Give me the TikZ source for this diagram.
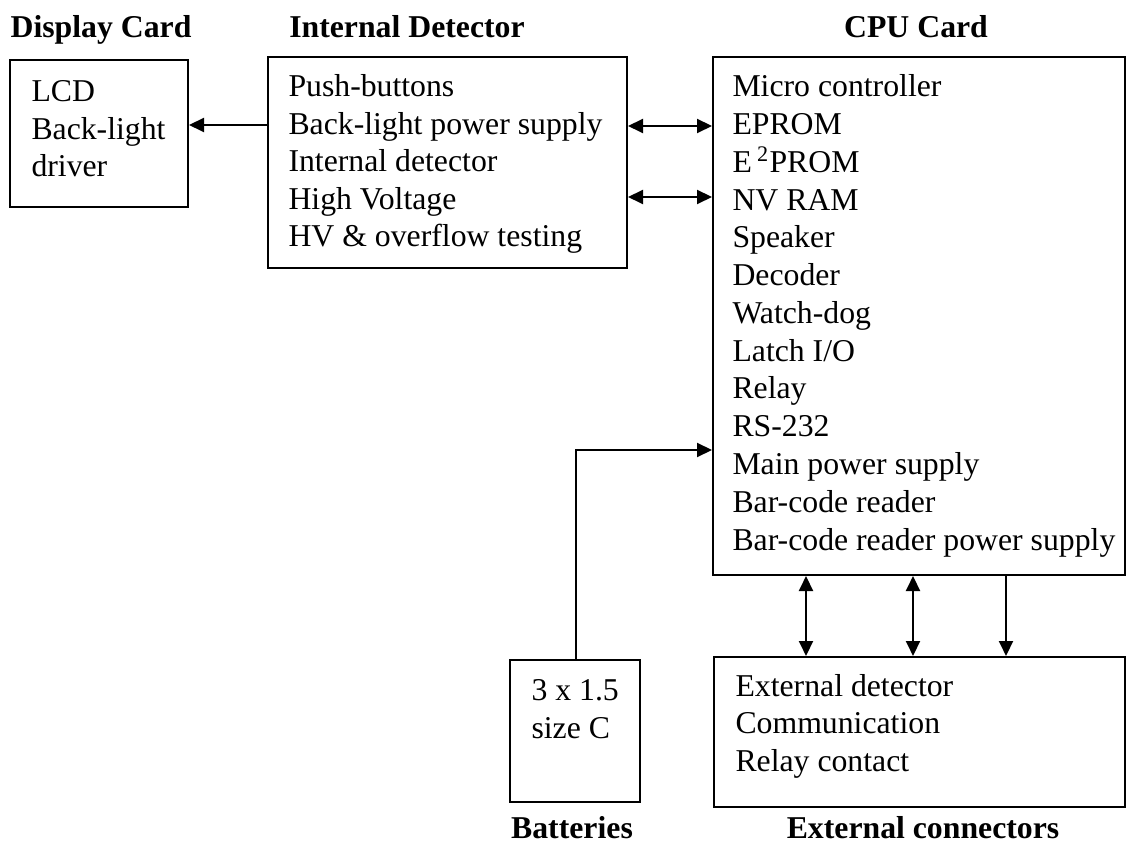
\documentclass[tikz,border=0pt]{standalone}
\usepackage{fontspec}
\setmainfont{Liberation Serif}
\usetikzlibrary{arrows.meta,fit}
\tikzset{
  box/.style={draw, line width=0.8pt, inner sep=0pt, fit={#1}},
  txt/.style={anchor=base west, inner sep=0pt, align=left, font=\fontsize{12.7}{15}\selectfont},
  cputxt/.style={txt, font=\fontsize{12.7}{15.1}\selectfont},
  head/.style={anchor=base, inner sep=0pt, font=\fontsize{12.7}{15}\selectfont\bfseries},
  conn/.style={line width=0.8pt},
  tip/.tip={Triangle[length=6pt,width=5.6pt]},
  arr/.style={conn, -tip},
  darr/.style={conn, tip-tip}
}
\begin{document}
\begin{tikzpicture}[x=0.4pt,y=-0.4pt]
\useasboundingbox (0,0) rectangle (1131,844);
% boxes
\node[box={(10,60) (188,207)}] (disp) {};
\node[box={(268,57) (627,268)}] (int) {};
\node[box={(713,57) (1125,575)}] (cpu) {};
\node[box={(714,657) (1125,807)}] (ext) {};
\node[box={(510,660) (640,802)}] (bat) {};
% headings
\node[head] (hdisp) at (101,38) {Display Card};
\node[head] (hint) at (407,38) {Internal Detector};
\node[head] (hcpu) at (916,38) {CPU Card};
\node[head] (hbat) at (572,838) {Batteries};
\node[head] (hext) at (923,838) {External connectors};
% texts (anchored at the baseline of the last line)
\node[txt] (tdisp) at (31,177) {LCD\\Back-light\\driver};
\node[txt] (tint) at (288,247) {Push-buttons\\Back-light power supply\\Internal detector\\High Voltage\\HV \& overflow testing};
\node[cputxt] (tcpu) at (732,550) {Micro controller\\EPROM\\E\,\textsuperscript{2}PROM\\NV RAM\\Speaker\\Decoder\\Watch-dog\\Latch I/O\\Relay\\RS-232\\Main power supply\\Bar-code reader\\Bar-code reader power supply};
\node[txt] (text) at (735,771) {External detector\\Communication\\Relay contact};
\node[txt] (tbat) at (531,738) {3 x 1.5\\size C};
% connectors
\draw[arr] (int.west |- 0,125) -- (disp.east |- 0,125);
\draw[darr] (int.east |- 0,126) -- (cpu.west |- 0,126);
\draw[darr] (int.east |- 0,197) -- (cpu.west |- 0,197);
\draw[arr] (bat.north -| 576,0) |- (cpu.west |- 0,450);
\draw[darr] (cpu.south -| 806,0) -- (ext.north -| 806,0);
\draw[darr] (cpu.south -| 913,0) -- (ext.north -| 913,0);
\draw[arr] (cpu.south -| 1006,0) -- (ext.north -| 1006,0);
\end{tikzpicture}
\end{document}
